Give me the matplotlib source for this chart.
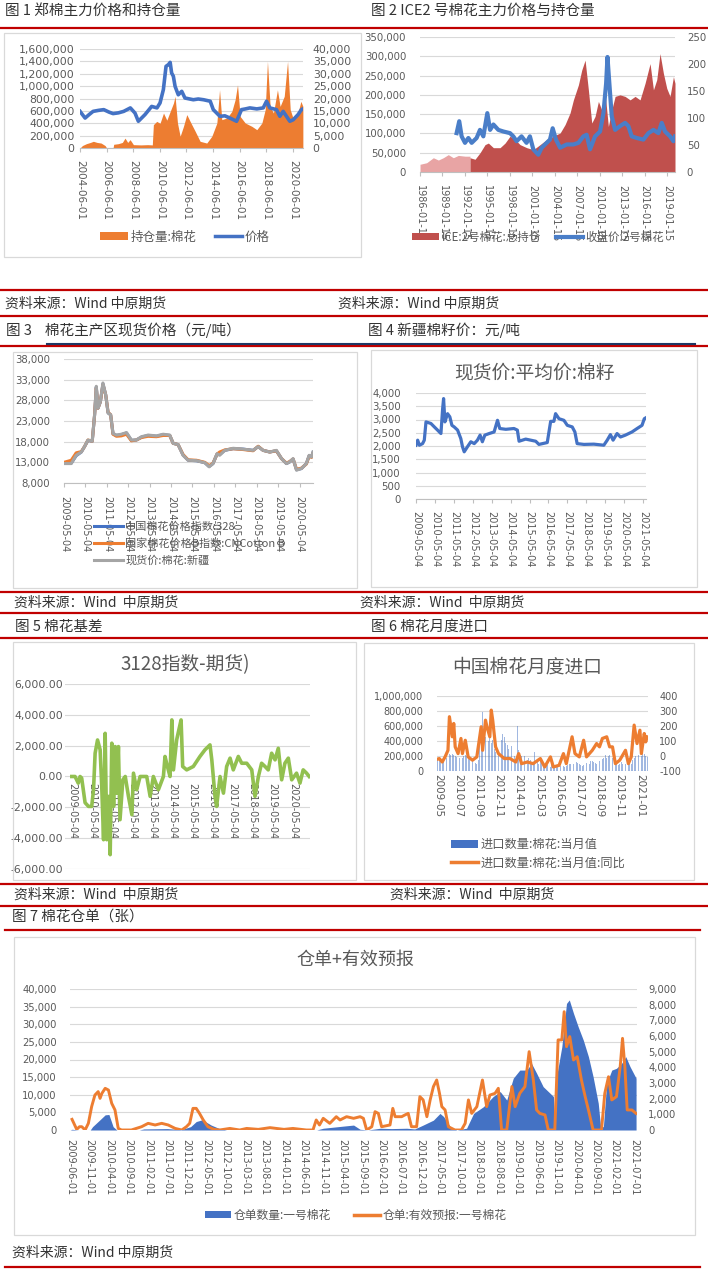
import matplotlib
matplotlib.use('Agg')
import matplotlib.pyplot as plt
from matplotlib.patches import Rectangle, Patch
from matplotlib.lines import Line2D
import numpy as np

# ---------------- data ----------------
# Fig 1: Zhengzhou cotton open interest (left) and price (right)
p1_oi_x = [2004.42, 2004.6, 2004.9, 2005.2, 2005.42, 2005.7, 2006.0, 2006.3, 2006.42, 2006.9, 2006.95, 2007.3,
           2007.6, 2007.8, 2008.0, 2008.18, 2008.43, 2009.0, 2009.5, 2009.85, 2009.93, 2010.18, 2010.43, 2010.69,
           2010.94, 2011.19, 2011.44, 2011.56, 2011.74, 2011.94, 2012.19, 2012.44, 2012.69, 2013.07, 2013.44,
           2013.94, 2014.32, 2014.7, 2014.9, 2015.07, 2015.45, 2015.82, 2016.07, 2016.25, 2016.45, 2016.83,
           2017.33, 2017.7, 2018.08, 2018.33, 2018.5, 2018.7, 2018.95, 2019.25, 2019.45, 2019.76, 2020.01,
           2020.21, 2020.46, 2020.76, 2021.01, 2021.16]
p1_oi = [0, 40000, 70000, 90000, 108000, 90000, 80000, 40000, 0, 0, 60000, 70000, 90000, 160000, 90000, 135000,
         54000, 50000, 54000, 50000, 377000, 430000, 400000, 565000, 450000, 590000, 727000, 835000, 404000,
         190000, 350000, 540000, 430000, 270000, 108000, 80000, 190000, 404000, 940000, 458000, 485000, 590000,
         780000, 1020000, 510000, 404000, 350000, 296000, 404000, 620000, 1400000, 673000, 565000, 940000,
         673000, 835000, 1400000, 620000, 458000, 540000, 754000, 673000]
p1_px_x = [2004.42, 2004.6, 2004.8, 2005.1, 2005.4, 2005.8, 2006.2, 2006.6, 2006.9, 2007.3, 2007.7, 2008.2,
           2008.55, 2008.8, 2009.3, 2009.8, 2010.2, 2010.43, 2010.68, 2010.88, 2011.06, 2011.19, 2011.3, 2011.43,
           2011.56, 2011.8, 2012.06, 2012.3, 2012.93, 2013.3, 2013.7, 2014.2, 2014.43, 2014.93, 2015.3, 2015.68,
           2016.18, 2016.55, 2016.85, 2017.18, 2017.7, 2018.18, 2018.43, 2018.68, 2019.18, 2019.43, 2019.68,
           2020.18, 2020.43, 2020.8, 2021.05, 2021.16]
p1_px = [14800, 13500, 12100, 13500, 14800, 15200, 15500, 14500, 13900, 14200, 14800, 16200, 14100, 10800,
         13500, 16800, 16200, 18200, 23600, 33000, 33700, 34600, 30300, 29000, 24900, 21500, 22900, 20200,
         19500, 19800, 19500, 18900, 15500, 12800, 13000, 12100, 10800, 15500, 15800, 16200, 15800, 16200,
         18900, 16200, 15500, 12800, 14800, 10800, 11400, 13500, 15500, 15800]
p1_ticks = ['2004-06-01', '2006-06-01', '2008-06-01', '2010-06-01', '2012-06-01', '2014-06-01',
            '2016-06-01', '2018-06-01', '2020-06-01']

# Fig 2: ICE cotton No.2 open interest (left) and close price (right)
ice_oi_early_x = [1986.04, 1986.93, 1987.82, 1988.49, 1989.15, 1989.82, 1990.49, 1991.16, 1992.06, 1992.72]
ice_oi_early = [20000, 24000, 37000, 31000, 37000, 45000, 37000, 43000, 41000, 41000]
ice_oi_x = [1992.72, 1993.39, 1994.06, 1994.73, 1995.17, 1995.84, 1996.73, 1997.4, 1998.07, 1998.74, 1999.4,
            2000.3, 2001.19, 2002.08, 2002.97, 2003.86, 2004.75, 2005.42, 2006.08, 2006.53, 2007.2, 2007.64,
            2008.09, 2008.53, 2008.98, 2009.42, 2009.87, 2010.31, 2010.76, 2011.2, 2011.65, 2012.1, 2012.76,
            2013.43, 2014.1, 2014.77, 2015.43, 2016.1, 2016.77, 2017.22, 2017.66, 2018.1, 2018.55, 2019.0,
            2019.44, 2019.89, 2020.1]
ice_oi = [37000, 33000, 50000, 71000, 75000, 63000, 63000, 75000, 93000, 84000, 71000, 63000, 58000, 71000,
          84000, 93000, 101000, 123000, 153000, 187000, 226000, 264000, 290000, 213000, 127000, 144000, 183000,
          161000, 204000, 118000, 161000, 196000, 200000, 196000, 187000, 196000, 187000, 230000, 281000,
          213000, 239000, 307000, 256000, 217000, 196000, 247000, 230000]
ice_px_x = [1990.93, 1991.28, 1991.6, 1992.05, 1992.5, 1992.94, 1993.6, 1994.05, 1994.5, 1995.03, 1995.4,
            1995.84, 1996.5, 1997.17, 1998.06, 1998.5, 1998.94, 1999.6, 2000.27, 2000.72, 2001.17, 2001.84,
            2002.3, 2002.96, 2003.4, 2003.76, 2004.2, 2004.75, 2005.64, 2006.53, 2007.2, 2007.86, 2008.3,
            2008.75, 2009.42, 2010.09, 2010.54, 2010.9, 2011.08, 2011.3, 2011.65, 2012.1, 2012.76, 2013.43,
            2013.87, 2014.32, 2014.99, 2015.88, 2016.55, 2017.22, 2017.88, 2018.33, 2018.77, 2019.44, 2019.89,
            2020.1]
ice_px = [72, 94, 66, 54, 63, 54, 63, 78, 66, 109, 78, 88, 78, 75, 72, 66, 57, 66, 54, 66, 42, 32, 45, 54, 60,
          81, 60, 45, 51, 51, 54, 66, 69, 42, 66, 75, 109, 164, 213, 170, 103, 78, 85, 91, 85, 66, 63, 60, 72,
          78, 72, 91, 75, 66, 57, 66]
p2_ticks = ['1986-01-15', '1989-01-15', '1992-01-15', '1995-01-15', '1998-01-15', '2001-01-15',
            '2004-01-15', '2007-01-15', '2010-01-15', '2013-01-15', '2016-01-15', '2019-01-15']

# Fig 3: spot prices
p3_x = [2009.34, 2009.68, 2009.91, 2010.15, 2010.3, 2010.46, 2010.66, 2010.77, 2010.85, 2010.93, 2011.04,
        2011.16, 2011.29, 2011.4, 2011.52, 2011.63, 2011.79, 2012.02, 2012.26, 2012.49, 2012.72, 2012.96,
        2013.27, 2013.66, 2013.97, 2014.28, 2014.44, 2014.67, 2014.9, 2015.14, 2015.53, 2015.92, 2016.12,
        2016.3, 2016.49, 2016.61, 2016.85, 2017.24, 2017.7, 2018.17, 2018.41, 2018.64, 2018.95, 2019.26,
        2019.5, 2019.73, 2019.88, 2020.04, 2020.2, 2020.43, 2020.66, 2020.79, 2020.9, 2020.97]
p3_idx328 = [12800, 12800, 14600, 15500, 16800, 18300, 18100, 24400, 31200, 26100, 27600, 32000, 29300, 25000,
             24500, 19900, 19500, 19700, 20100, 18300, 18400, 19100, 19500, 19300, 19700, 19500, 17600, 17300,
             14800, 13500, 13400, 12900, 12000, 12700, 15000, 14900, 15900, 16300, 16200, 15900, 16800, 15900,
             15500, 15800, 13900, 12700, 13100, 13800, 11200, 11500, 12700, 14600, 14300, 15400]
p3_cncb = [13000, 13500, 15300, 15600, 16800, 18400, 18100, 24500, 31000, 26100, 27700, 31800, 29300, 25100,
           24500, 19800, 19300, 19400, 19800, 18200, 18400, 19000, 19300, 19200, 19500, 19500, 17600, 17300,
           14900, 13600, 13500, 13000, 12200, 12800, 15000, 15500, 16000, 16300, 16100, 15800, 16900, 15900,
           15500, 15800, 13900, 12800, 13200, 13800, 11300, 11600, 12600, 14500, 14200, 15200]
p3_xj = [12700, 12700, 14700, 15500, 16800, 18400, 18100, 24500, 31400, 26100, 27700, 32200, 29300, 24900,
         24500, 20000, 19600, 19800, 20200, 18400, 18400, 19200, 19600, 19400, 19800, 19600, 17600, 17300,
         14700, 13500, 13400, 12900, 11900, 12700, 15100, 14700, 15900, 16400, 16200, 15900, 16800, 15900,
         15500, 15900, 13900, 12700, 13100, 13900, 11100, 11500, 12700, 14700, 14300, 15500]
p3_ticks = ['2009-05-04', '2010-05-04', '2011-05-04', '2012-05-04', '2013-05-04', '2014-05-04',
            '2015-05-04', '2016-05-04', '2017-05-04', '2018-05-04', '2019-05-04', '2020-05-04']

# Fig 4: cottonseed price
p4_x = [2009.34, 2009.43, 2009.52, 2009.69, 2009.78, 2009.87, 2010.13, 2010.31, 2010.48, 2010.66, 2010.75,
        2010.8, 2010.87, 2011.01, 2011.13, 2011.24, 2011.36, 2011.54, 2011.71, 2011.8, 2011.89, 2012.06,
        2012.24, 2012.42, 2012.59, 2012.73, 2012.85, 2012.98, 2013.21, 2013.47, 2013.65, 2013.77, 2014.09,
        2014.52, 2014.7, 2014.79, 2015.14, 2015.67, 2015.84, 2016.28, 2016.46, 2016.63, 2016.72, 2016.9,
        2017.16, 2017.34, 2017.6, 2017.74, 2017.86, 2018.22, 2018.74, 2019.27, 2019.45, 2019.62, 2019.76,
        2019.97, 2020.15, 2020.41, 2020.76, 2021.03, 2021.29, 2021.41, 2021.48]
p4_v = [2030, 2220, 2030, 2090, 2220, 2910, 2850, 2720, 2600, 2470, 3410, 3790, 2910, 3220, 3100, 2780, 2720,
        2600, 2280, 1970, 1780, 1970, 2160, 2090, 2220, 2410, 2160, 2410, 2470, 2530, 2970, 2660, 2630, 2660,
        2600, 2180, 2260, 2180, 2060, 2130, 2930, 2930, 3220, 3030, 2970, 2780, 2720, 2530, 2090, 2060, 2070,
        2030, 2220, 2430, 2220, 2470, 2340, 2410, 2530, 2660, 2780, 3030, 3060]
p4_ticks = p3_ticks + ['2021-05-04']

# Fig 5: basis
p5_x = [2009.34, 2009.5, 2009.66, 2009.75, 2009.83, 2010.0, 2010.17, 2010.33, 2010.42, 2010.5, 2010.62,
        2010.75, 2010.83, 2010.92, 2011.0, 2011.08, 2011.17, 2011.25, 2011.33, 2011.42, 2011.5, 2011.58,
        2011.66, 2011.74, 2011.88, 2012.0, 2012.16, 2012.33, 2012.41, 2012.57, 2012.74, 2013.07, 2013.24,
        2013.4, 2013.65, 2013.9, 2013.98, 2014.1, 2014.23, 2014.32, 2014.4, 2014.56, 2014.65, 2014.78,
        2014.86, 2015.06, 2015.39, 2015.72, 2015.97, 2016.22, 2016.31, 2016.47, 2016.55, 2016.72, 2016.89,
        2017.05, 2017.22, 2017.38, 2017.63, 2017.8, 2018.05, 2018.3, 2018.46, 2018.63, 2018.79, 2018.96,
        2019.12, 2019.29, 2019.46, 2019.62, 2019.79, 2019.95, 2020.12, 2020.29, 2020.53, 2020.7, 2020.86,
        2021.03, 2021.16]
p5_v = [0, 0, -430, 0, -100, -1700, -1940, -1940, -860, 1510, 2370, 1730, -650, -4100, 2800, -4100, -1290,
        -5070, 2160, -1940, 1940, -1080, 1940, -2800, -215, 0, -1290, -2480, 215, -860, 0, 0, -1290, 0, -860,
        0, 1300, 650, 0, 3670, 430, 2370, 2910, 3670, 650, 430, 650, 1300, 1730, 2050, 1080, -1290, -1940, 0,
        -1080, 650, 1190, 430, 1300, 860, 860, 430, -1290, 0, 860, 650, 430, 1510, 1080, 1830, -215, 860,
        1190, -215, 215, -430, 430, 215, 0]
p5_ticks = p3_ticks

# Fig 6: monthly imports from 2009-05 (bars) and YoY (line)
imports = [
    150000, 140000, 120000, 110000, 130000, 150000, 180000, 200000,
    230000, 220000, 230000, 220000, 200000, 190000, 180000, 170000, 150000, 170000, 200000, 220000,
    200000, 180000, 170000, 160000, 130000, 120000, 110000, 100000, 150000, 400000, 430000, 790000,
    500000, 450000, 550000, 400000, 450000, 380000, 420000, 300000, 250000, 200000, 260000, 530000,
    420000, 500000, 450000, 380000, 350000, 300000, 250000, 330000, 250000, 200000, 160000, 600000,
    280000, 220000, 200000, 230000, 200000, 180000, 150000, 180000, 150000, 120000, 100000, 250000,
    150000, 120000, 100000, 150000, 120000, 100000, 90000, 100000, 80000, 60000, 50000, 120000,
    80000, 60000, 50000, 50000, 60000, 70000, 80000, 70000, 60000, 70000, 80000, 100000,
    100000, 80000, 90000, 120000, 120000, 110000, 90000, 80000, 70000, 80000, 100000, 110000,
    120000, 100000, 130000, 140000, 120000, 110000, 100000, 120000, 130000, 150000, 160000, 180000,
    220000, 180000, 200000, 210000, 190000, 180000, 150000, 120000, 100000, 80000, 100000, 120000,
    100000, 80000, 90000, 100000, 80000, 90000, 100000, 150000, 180000, 200000, 210000, 220000,
    220000, 200000, 240000, 230000, 200000, 190000]
yoy_m = [0, 1, 3, 5, 7, 8, 10, 11, 12, 14, 16, 17, 19, 21, 24, 27, 30, 31, 33, 34, 36, 37, 38, 40, 42, 46, 50,
         54, 56, 58, 62, 66, 71, 74, 78, 80, 84, 87, 89, 93, 95, 98, 101, 103, 107, 110, 112, 114, 117, 119,
         121, 123, 126, 130, 132, 134, 136, 138, 140, 141, 143, 144, 145]
yoy = [-20, -17, -40, -6, 38, 262, 128, 217, 61, 16, 117, 16, 105, -6, -28, -6, 195, 38, 239, 195, 128, 306,
       239, 61, 16, -17, -17, -40, 16, -51, -40, -51, -17, -73, -6, -73, -62, 16, -51, 128, 16, -6, 105, -6,
       38, 83, 61, 117, 128, 61, 61, -51, -28, 38, -51, -6, 206, 83, 172, 16, 150, 94, 128]
p6_ticks = ['2009-05', '2010-07', '2011-09', '2012-11', '2014-01', '2015-03', '2016-05', '2017-07',
            '2018-09', '2019-11', '2021-01']

# Fig 7: warehouse receipts (left) and valid forecasts (right)
wr_x = [2009.42, 2009.46, 2009.6, 2009.85, 2009.9, 2010.05, 2010.17, 2010.25, 2010.34, 2010.42, 2010.9,
        2011.0, 2011.5, 2011.8, 2012.0, 2012.12, 2012.25, 2012.44, 2012.6, 2012.77, 2014.7, 2014.84, 2015.27,
        2015.49, 2015.63, 2015.8, 2016.06, 2016.3, 2016.63, 2016.8, 2016.98, 2017.2, 2017.34, 2017.42,
        2017.56, 2017.7, 2017.91, 2018.06, 2018.27, 2018.48, 2018.63, 2018.77, 2018.91, 2019.05, 2019.2,
        2019.3, 2019.41, 2019.55, 2019.7, 2019.77, 2019.8, 2019.85, 2019.95, 2020.05, 2020.11, 2020.2,
        2020.3, 2020.41, 2020.52, 2020.62, 2020.73, 2020.78, 2020.84, 2020.91, 2021.02, 2021.12, 2021.23,
        2021.32, 2021.41, 2021.54]
wr = [0, 200, 0, 0, 950, 2800, 4300, 4400, 950, 0, 0, 300, 400, 100, 950, 2400, 2900, 1400, 500, 0, 0, 500,
      1100, 1400, 200, 0, 500, 400, 500, 300, 1400, 2800, 4700, 3800, 950, 0, 500, 4700, 6600, 9500, 10900,
      8500, 14700, 17000, 17000, 18900, 16100, 12300, 10400, 9500, 0, 16100, 23600, 35900, 36900, 33100,
      29300, 25500, 20800, 15100, 7600, 950, 950, 13200, 17000, 17500, 18900, 20800, 18000, 14700]
fc_x = [2009.46, 2009.5, 2009.56, 2009.62, 2009.67, 2009.74, 2009.81, 2009.88, 2009.95, 2010.02,
        2010.06, 2010.1, 2010.17, 2010.24, 2010.31, 2010.38, 2010.45, 2010.52, 2010.73, 2010.95,
        2011.09, 2011.24, 2011.38, 2011.52, 2011.67, 2011.81, 2011.91, 2011.98, 2012.05, 2012.12,
        2012.19, 2012.27, 2012.37, 2012.5, 2012.62, 2012.84, 2013.05, 2013.2, 2013.45, 2013.7,
        2014.0, 2014.19, 2014.48, 2014.62, 2014.69, 2014.76, 2014.84, 2014.98, 2015.12, 2015.2,
        2015.34, 2015.49, 2015.63, 2015.7, 2015.77, 2015.88, 2015.95, 2016.02, 2016.09, 2016.27,
        2016.33, 2016.38, 2016.52, 2016.59, 2016.66, 2016.73, 2016.84, 2016.91, 2016.98, 2017.06,
        2017.13, 2017.2, 2017.27, 2017.33, 2017.38, 2017.45, 2017.52, 2017.66, 2017.8, 2017.88,
        2017.95, 2018.02, 2018.13, 2018.25, 2018.34, 2018.41, 2018.52, 2018.59, 2018.66, 2018.77,
        2018.88, 2018.95, 2019.05, 2019.16, 2019.25, 2019.34, 2019.41, 2019.48, 2019.59, 2019.66,
        2019.8, 2019.87, 2019.95, 2020.0, 2020.05, 2020.12, 2020.2, 2020.28, 2020.37, 2020.45,
        2020.52, 2020.62, 2020.8, 2020.87, 2020.95, 2021.02, 2021.12, 2021.2, 2021.25, 2021.3,
        2021.35, 2021.45, 2021.54]
fc = [680, 425, 40, 210, 210, 0, 425, 1490, 2230, 2450,
      2020, 2340, 2660, 2550, 1700, 1280, 100, 0, 0, 210,
      425, 320, 425, 320, 100, 0, 210, 425, 1380, 1380,
      1060, 640, 210, 40, 0, 100, 0, 100, 40, 150,
      40, 100, 0, 0, 640, 320, 745, 425, 850, 640,
      850, 745, 850, 745, 0, 210, 1170, 1060, 210, 320,
      1380, 850, 850, 960, 1060, 210, 210, 2130, 1920, 850,
      1920, 2770, 3190, 2340, 1490, 1280, 210, 0, 0, 425,
      1920, 1060, 1490, 3190, 1490, 2230, 2340, 2660, 0, 0,
      2770, 1490, 2340, 2770, 5000, 3190, 1280, 1060, 960, 0,
      0, 5750, 5750, 7550, 5320, 5960, 4470, 4680, 3190, 2130,
      1280, 0, 0, 2340, 3400, 1920, 2130, 4040, 5850, 4040,
      1280, 1280, 1060]
p7_ticks = ['2009-06-01', '2009-11-01', '2010-04-01', '2010-09-01', '2011-02-01', '2011-07-01', '2011-12-01',
            '2012-05-01', '2012-10-01', '2013-03-01', '2013-08-01', '2014-01-01', '2014-06-01', '2014-11-01',
            '2015-04-01', '2015-09-01', '2016-02-01', '2016-07-01', '2016-12-01', '2017-05-01', '2017-10-01',
            '2018-03-01', '2018-08-01', '2019-01-01', '2019-06-01', '2019-11-01', '2020-04-01', '2020-09-01',
            '2021-02-01', '2021-07-01']

# ---------------- drawing ----------------
W, H = 708, 1275
plt.rcParams['font.family'] = ['DejaVu Sans', 'Noto Sans CJK SC']
CJK = ['Noto Sans CJK SC', 'DejaVu Sans']
BLUE, ORANGE, GRAY = '#4472C4', '#ED7D31', '#A5A5A5'
RED_AREA, PINK, GREEN = '#C0504D', '#E8A4A4', '#92C050'
GRID, TXT, REDLINE = '#D9D9D9', '#595959', '#C00000'

fig = plt.figure(figsize=(W / 100, H / 100), dpi=100)
fig.patch.set_facecolor('white')


def fx(x):
    return x / W


def fy(y):
    return 1 - y / H


def add_ax(x0, y0, x1, y1):
    return fig.add_axes([fx(x0), fy(y1), (x1 - x0) / W, (y1 - y0) / H])


def hline(y, x0=0, x1=W, color=REDLINE, lw=1.6):
    fig.add_artist(Line2D([fx(x0), fx(x1)], [fy(y), fy(y)], color=color, lw=lw,
                          transform=fig.transFigure))


def box(x0, y0, x1, y1):
    fig.add_artist(Rectangle((fx(x0), fy(y1)), (x1 - x0) / W, (y1 - y0) / H, fill=False,
                             ec=GRID, lw=0.9, transform=fig.transFigure))


def txt(x, y, s, size, color='#333333', ha='left'):
    fig.text(fx(x), fy(y), s, fontsize=size, color=color, ha=ha, va='center', family=CJK)


def dec(s):
    y, m, d = (int(p) for p in s.split('-'))
    return y + (m - 1) / 12 + (d - 1) / 365


def ystyle(ax, lim, ticks, fmt, fs, pad, grid=True):
    ax.set_ylim(*lim)
    ax.set_yticks(ticks)
    ax.set_yticklabels([fmt.format(t) for t in ticks])
    for s in ax.spines.values():
        s.set_visible(False)
    ax.tick_params(axis='y', length=0, labelsize=fs, labelcolor=TXT, pad=pad)
    if grid:
        ax.grid(axis='y', color=GRID, lw=0.8)
        ax.set_axisbelow(True)
    ax.set_facecolor('none')


def xstyle(ax, pos, labels, fs, pad, line=True):
    ax.set_xticks(pos)
    ax.set_xticklabels(labels, rotation=270)
    ax.tick_params(axis='x', length=3 if line else 0, color='#BFBFBF', labelsize=fs,
                   labelcolor=TXT, pad=pad)
    if line:
        ax.spines['bottom'].set_visible(True)
        ax.spines['bottom'].set_color('#BFBFBF')
        ax.spines['bottom'].set_linewidth(0.8)


# separators & headings
for y in (28, 290, 316, 345.5, 592, 613, 638, 884, 906):
    hline(y)
hline(343.5, 47, 695, color='#1F3864', lw=1.5)
hline(929.5, 5, 700)
hline(1266.5, 5, 700)

txt(5, 11, '图 1 郑棉主力价格和持仓量', 10.5)
txt(371, 11, '图 2 ICE2 号棉花主力价格与持仓量', 10.5)
txt(6, 330, '图 3    棉花主产区现货价格（元/吨）', 10.5)
txt(368, 330, '图 4 新疆棉籽价：元/吨', 10.5)
txt(15, 627, '图 5 棉花基差', 10.5)
txt(371, 627, '图 6 棉花月度进口', 10.5)
txt(12, 917, '图 7 棉花仓单（张）', 10.5)

src = '资料来源：Wind 中原期货'
src2 = '资料来源：Wind  中原期货'
txt(5, 304, src, 10)
txt(338, 304, src, 10)
txt(14, 603, src2, 10)
txt(360, 603, src2, 10)
txt(14, 895, src2, 10)
txt(390, 895, src2, 10)
txt(12, 1253, src, 10)

box(4, 33, 361, 257)
box(13, 352, 357, 588)
box(371, 350, 697, 587)
box(13, 642, 356, 880)
box(364, 643, 694, 880)
box(14, 937, 695, 1235)

# ---- Fig 1 ----
ax1 = add_ax(80, 49, 303, 148)
ax1.fill_between(p1_oi_x, p1_oi, color=ORANGE, lw=0)
ax1.set_xlim(dec('2004-06-01'), 2021.17)
ystyle(ax1, (0, 1600000), list(range(0, 1600001, 200000)), '{:,.0f}', 7.8, 4)
xstyle(ax1, [dec(s) for s in p1_ticks], p1_ticks, 7.5, 6)
ax1b = ax1.twinx()
ax1b.plot(p1_px_x, p1_px, color=BLUE, lw=2.6)
ystyle(ax1b, (0, 40000), list(range(0, 40001, 5000)), '{:,.0f}', 7.8, 7, grid=False)
fig.legend(handles=[Patch(fc=ORANGE, ec='none'), Line2D([], [], color=BLUE, lw=2.5)],
           labels=['持仓量:棉花', '价格'], loc='center', bbox_to_anchor=(fx(185), fy(237)), ncol=2,
           frameon=False, prop={'family': CJK, 'size': 9}, labelcolor=TXT, handlelength=2.2,
           handleheight=0.6, columnspacing=1.5, handletextpad=0.2)

# ---- Fig 2 ----
ax2 = add_ax(420, 37, 675, 172)
ax2.fill_between(ice_oi_early_x, ice_oi_early, color=PINK, lw=0)
ax2.fill_between(ice_oi_x, ice_oi, color=RED_AREA, lw=0)
ax2.set_xlim(dec('1986-01-15'), 2020.1)
ystyle(ax2, (0, 350000), list(range(0, 350001, 50000)), '{:,.0f}', 7.3, 10)
xstyle(ax2, [dec(s) for s in p2_ticks], p2_ticks, 7, 6.5)
ax2b = ax2.twinx()
ax2b.plot(ice_px_x, ice_px, color='#4A7EC8', lw=3)
ystyle(ax2b, (0, 250), list(range(0, 251, 50)), '{:,.0f}', 7.3, 8.5, grid=False)
fig.legend(handles=[Patch(fc=RED_AREA, ec='none'), Line2D([], [], color='#4A7EC8', lw=3)],
           labels=['ICE:2号棉花:总持仓', '收盘价:2号棉花'], loc='center', bbox_to_anchor=(fx(538), fy(237)),
           ncol=2, frameon=False, prop={'family': CJK, 'size': 8.3}, labelcolor=TXT, handlelength=2.4,
           handleheight=0.6, columnspacing=1.3, handletextpad=0.2)

# ---- Fig 3 ----
ax3 = add_ax(64, 359, 313, 483)
l31, = ax3.plot(p3_x, p3_idx328, color=BLUE, lw=2.2)
l32, = ax3.plot(p3_x, p3_cncb, color=ORANGE, lw=2.2)
l33, = ax3.plot(p3_x, p3_xj, color=GRAY, lw=2.2)
ax3.set_xlim(dec('2009-05-04'), 2020.97)
ystyle(ax3, (8000, 38000), list(range(8000, 38001, 5000)), '{:,.0f}', 7.3, 10)
xstyle(ax3, [dec(s) for s in p3_ticks], p3_ticks, 7, 6)
fig.legend(handles=[l31, l32, l33], labels=['中国棉花价格指数:328', '国家棉花价格B指数:CNCotton B', '现货价:棉花:新疆'],
           loc='upper left', bbox_to_anchor=(fx(84), fy(512)), ncol=1, frameon=False,
           prop={'family': CJK, 'size': 8}, labelcolor=TXT, handlelength=2.6, handletextpad=0.2,
           labelspacing=0.55)

# ---- Fig 4 ----
txt(534, 373, '现货价:平均价:棉籽', 13.5, color=TXT, ha='center')
ax4 = add_ax(416, 393, 646, 499)
ax4.plot(p4_x, p4_v, color=BLUE, lw=2.3)
ax4.set_xlim(dec('2009-05-04'), 2021.5)
ystyle(ax4, (0, 4000), list(range(0, 4001, 500)), '{:,.0f}', 7.3, 11)
xstyle(ax4, [dec(s) for s in p4_ticks], p4_ticks, 7, 5.5)

# ---- Fig 5 ----
txt(185, 665, '3128指数-期货)', 13.5, color=TXT, ha='center')
ax5 = add_ax(65, 684, 310, 869)
ax5.plot(p5_x, p5_v, color=GREEN, lw=2.6)
ax5.set_xlim(2009.0, 2021.2)
ystyle(ax5, (-6000, 6000), list(range(-6000, 6001, 2000)), '{:,.2f}', 7.8, 1.5)
ax5.spines['bottom'].set_position(('data', 0))
xstyle(ax5, [dec(s) for s in p5_ticks], p5_ticks, 7, 4.5, line=False)

# ---- Fig 6 ----
txt(527, 667, '中国棉花月度进口', 13.5, color=TXT, ha='center')
ax6 = add_ax(437, 696, 648, 771)
bars = ax6.bar(np.arange(len(imports)), imports, width=0.55, color=BLUE, alpha=0.5, lw=0)
ax6.set_xlim(-0.6, len(imports) - 0.4)
ystyle(ax6, (0, 1000000), list(range(0, 1000001, 200000)), '{:,.0f}', 7, 10)
xstyle(ax6, [14 * i for i in range(len(p6_ticks))], p6_ticks, 7.5, 2, line=False)
ax6b = ax6.twinx()
l6, = ax6b.plot(yoy_m, yoy, color=ORANGE, lw=2.3)
ystyle(ax6b, (-100, 400), list(range(-100, 401, 100)), '{:,.0f}', 7, 8, grid=False)
fig.legend(handles=[Patch(fc=BLUE, ec='none'), Line2D([], [], color=ORANGE, lw=2.5)],
           labels=['进口数量:棉花:当月值', '进口数量:棉花:当月值:同比'], loc='upper left',
           bbox_to_anchor=(fx(440), fy(827)), ncol=1, frameon=False, prop={'family': CJK, 'size': 8.8},
           labelcolor=TXT, handlelength=2.2, handleheight=0.6, handletextpad=0.2, labelspacing=0.45)

# ---- Fig 7 ----
txt(355, 960, '仓单+有效预报', 13, color=TXT, ha='center')
ax7 = add_ax(70, 989, 637, 1130)
ax7.fill_between(wr_x, wr, color=BLUE, lw=0)
ax7.set_xlim(dec('2009-06-01'), 2021.56)
ystyle(ax7, (0, 40000), list(range(0, 40001, 5000)), '{:,.0f}', 7.2, 9.5)
xstyle(ax7, [dec(s) for s in p7_ticks], p7_ticks, 7, 6.5, line=False)
ax7b = ax7.twinx()
ax7b.plot(fc_x, fc, color=ORANGE, lw=2.1)
ystyle(ax7b, (0, 9000), list(range(0, 9001, 1000)), '{:,.0f}', 7.2, 8, grid=False)
fig.legend(handles=[Patch(fc=BLUE, ec='none'), Line2D([], [], color=ORANGE, lw=2.5)],
           labels=['仓单数量:一号棉花', '仓单:有效预报:一号棉花'], loc='center', bbox_to_anchor=(fx(356), fy(1215)),
           ncol=2, frameon=False, prop={'family': CJK, 'size': 8.5}, labelcolor=TXT, handlelength=2.2,
           handleheight=0.6, columnspacing=2.0, handletextpad=0.2)

fig.savefig('out.png', dpi=100, facecolor='white')
